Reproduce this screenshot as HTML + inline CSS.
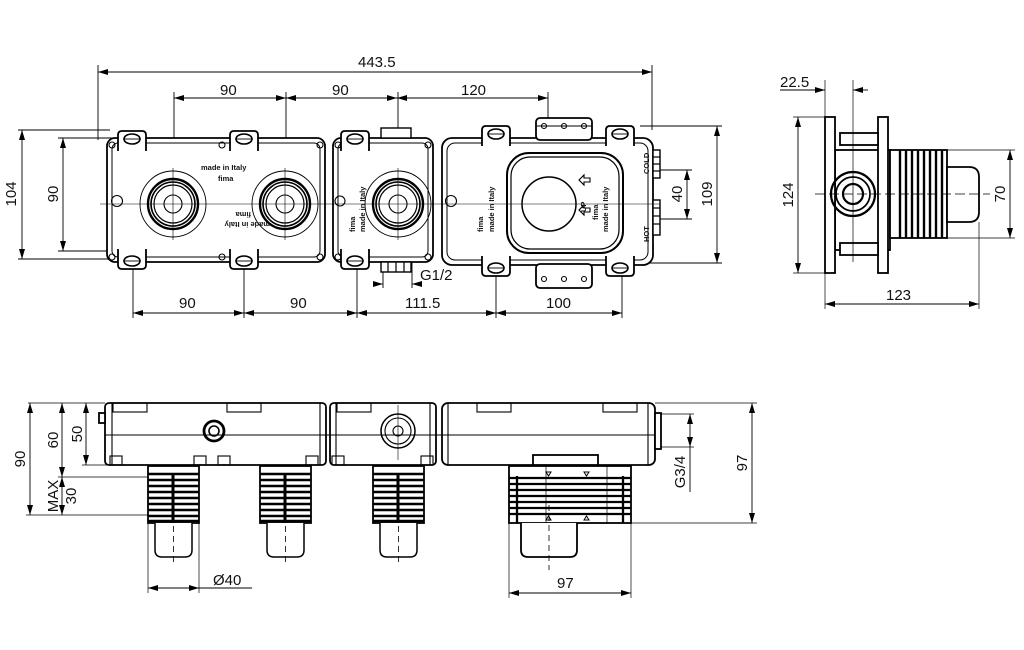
<!DOCTYPE html>
<html><head><meta charset="utf-8"><style>
html,body{margin:0;padding:0;background:#fff;width:1024px;height:650px;overflow:hidden}
svg{display:block}
text{font-family:"Liberation Sans",sans-serif;font-size:15px;fill:#111}
.s{font-size:7.5px;font-weight:bold}
</style></head><body>
<svg width="1024" height="650" viewBox="0 0 1024 650" xmlns="http://www.w3.org/2000/svg">
<defs>
<marker id="a" viewBox="0 0 10 6" refX="10" refY="3" markerWidth="10" markerHeight="6" orient="auto-start-reverse" markerUnits="userSpaceOnUse"><path d="M0,0L10,3L0,6z" fill="#000"/></marker>
<g id="ear"><path d="M-14,10 L-14,-6 Q-14,-10 -10,-10 L10,-10 Q14,-10 14,-6 L14,10" fill="#fff" stroke="#000" stroke-width="1.8"/><ellipse cx="0" cy="-2" rx="8" ry="5" fill="none" stroke="#000" stroke-width="1.6"/><line x1="-8" y1="-2" x2="8" y2="-2" stroke="#000" stroke-width="0.9"/></g>
<g id="earB"><path d="M-14,-10 L-14,6 Q-14,10 -10,10 L10,10 Q14,10 14,6 L14,-10" fill="#fff" stroke="#000" stroke-width="1.8"/><ellipse cx="0" cy="2" rx="8" ry="5" fill="none" stroke="#000" stroke-width="1.6"/><line x1="-8" y1="2" x2="8" y2="2" stroke="#000" stroke-width="0.9"/></g>
<g id="port"><circle r="33" fill="none" stroke="#000" stroke-width="0.9"/><circle r="25" fill="none" stroke="#000" stroke-width="2.4"/><circle r="22" fill="none" stroke="#000" stroke-width="1.6"/><circle r="19" fill="none" stroke="#000" stroke-width="1.2"/><circle r="9" fill="none" stroke="#000" stroke-width="1.1"/><line x1="0" y1="-36" x2="0" y2="36" stroke="#000" stroke-width="0.6"/></g>
<g id="thr"><rect x="0" y="0" width="51" height="57" fill="#fff" stroke="#000" stroke-width="1.8"/>
<g stroke="#000" stroke-width="2.5"><line x1="0" y1="8" x2="51" y2="8"/><line x1="0" y1="14" x2="51" y2="14"/><line x1="0" y1="20" x2="51" y2="20"/><line x1="0" y1="26" x2="51" y2="26"/><line x1="0" y1="32" x2="51" y2="32"/><line x1="0" y1="38" x2="51" y2="38"/><line x1="0" y1="44" x2="51" y2="44"/><line x1="0" y1="50" x2="51" y2="50"/><line x1="0" y1="55" x2="51" y2="55"/></g>
<line x1="25" y1="8" x2="25" y2="57" stroke="#000" stroke-width="3"/>
<path d="M7,57 L7,84 Q7,91 14,91 L37,91 Q44,91 44,84 L44,57" fill="#fff" stroke="#000" stroke-width="1.5"/>
<line x1="25.5" y1="60" x2="25.5" y2="100" stroke="#000" stroke-width="0.8" stroke-dasharray="6,4"/></g>
</defs>
<g fill="none" stroke="#000" stroke-width="0.9">
<line x1="98" y1="72" x2="652" y2="72" marker-start="url(#a)" marker-end="url(#a)"/>
<line x1="98" y1="65" x2="98" y2="140"/><line x1="652" y1="65" x2="652" y2="130"/>
<line x1="174" y1="98" x2="286" y2="98" marker-start="url(#a)" marker-end="url(#a)"/>
<line x1="286" y1="98" x2="397" y2="98" marker-start="url(#a)" marker-end="url(#a)"/>
<line x1="397" y1="98" x2="548" y2="98" marker-start="url(#a)" marker-end="url(#a)"/>
<line x1="174" y1="92" x2="174" y2="240"/><line x1="286" y1="92" x2="286" y2="240"/><line x1="398" y1="92" x2="398" y2="240"/><line x1="548" y1="92" x2="548" y2="240"/>
<line x1="22" y1="130" x2="22" y2="259" marker-start="url(#a)" marker-end="url(#a)"/>
<line x1="18" y1="130" x2="110" y2="130"/><line x1="18" y1="259" x2="120" y2="259"/>
<line x1="63" y1="138" x2="63" y2="251" marker-start="url(#a)" marker-end="url(#a)"/>
<line x1="58" y1="138" x2="118" y2="138"/><line x1="58" y1="251" x2="118" y2="251"/>
<line x1="717" y1="126" x2="717" y2="263" marker-start="url(#a)" marker-end="url(#a)"/>
<line x1="640" y1="126" x2="722" y2="126"/><line x1="640" y1="263" x2="722" y2="263"/>
<line x1="687" y1="170" x2="687" y2="219" marker-start="url(#a)" marker-end="url(#a)"/>
<line x1="660" y1="170" x2="692" y2="170"/><line x1="660" y1="219" x2="692" y2="219"/>
<line x1="133" y1="313" x2="244" y2="313" marker-start="url(#a)" marker-end="url(#a)"/>
<line x1="244" y1="313" x2="357" y2="313" marker-start="url(#a)" marker-end="url(#a)"/>
<line x1="357" y1="313" x2="496" y2="313" marker-start="url(#a)" marker-end="url(#a)"/>
<line x1="496" y1="313" x2="622" y2="313" marker-start="url(#a)" marker-end="url(#a)"/>
<line x1="133" y1="262" x2="133" y2="318"/><line x1="244" y1="262" x2="244" y2="318"/><line x1="357" y1="262" x2="357" y2="318"/><line x1="496" y1="262" x2="496" y2="318"/><line x1="622" y1="262" x2="622" y2="318"/>
<line x1="374" y1="284" x2="383" y2="284" marker-end="url(#a)"/><line x1="422" y1="284" x2="412" y2="284" marker-end="url(#a)"/><line x1="383" y1="252" x2="383" y2="288"/><line x1="412" y1="252" x2="412" y2="288"/>
</g>
<g font-size="15">
<text x="358" y="67">443.5</text><text x="220" y="95">90</text><text x="332" y="95">90</text><text x="461" y="95">120</text>
<text x="179" y="308">90</text><text x="290" y="308">90</text><text x="405" y="308">111.5</text><text x="546" y="308">100</text>
<text x="420" y="280">G1/2</text>
<text transform="translate(16,194) rotate(-90)" text-anchor="middle">104</text>
<text transform="translate(58,194) rotate(-90)" text-anchor="middle">90</text>
<text transform="translate(712,194) rotate(-90)" text-anchor="middle">109</text>
<text transform="translate(682,194) rotate(-90)" text-anchor="middle">40</text>
</g>
<g stroke="#000" stroke-width="1.8" fill="#fff">
<rect x="107" y="138" width="218" height="124" rx="8"/>
<rect x="112" y="143" width="208" height="114" rx="6" stroke-width="1"/>
<rect x="333" y="138" width="100" height="124" rx="8"/>
<rect x="338" y="143" width="90" height="114" rx="6" stroke-width="1"/>
<rect x="442" y="138" width="211" height="127" rx="10"/>
<rect x="447" y="143" width="201" height="117" rx="8" stroke-width="1"/>
<rect x="536" y="118" width="56" height="22" rx="4"/>
<rect x="536" y="264" width="56" height="24" rx="4"/>
<rect x="507" y="153" width="116" height="100" rx="22" stroke-width="2"/>
<rect x="511" y="157" width="108" height="92" rx="19" stroke-width="1.2"/>
<rect x="381" y="128" width="30" height="10" stroke-width="1.4"/>
<rect x="381" y="262" width="30" height="10" stroke-width="1.4"/>
<rect x="653" y="150" width="7" height="28" stroke-width="1.4"/>
<rect x="653" y="200" width="7" height="35" stroke-width="1.4"/>
</g>
<g stroke="#000" stroke-width="1.2" fill="none">
<line x1="388" y1="262" x2="388" y2="272"/><line x1="396" y1="262" x2="396" y2="272"/><line x1="404" y1="262" x2="404" y2="272"/>
<line x1="653" y1="157" x2="660" y2="157"/><line x1="653" y1="164" x2="660" y2="164"/><line x1="653" y1="171" x2="660" y2="171"/>
<line x1="653" y1="208" x2="660" y2="208"/><line x1="653" y1="216" x2="660" y2="216"/><line x1="653" y1="224" x2="660" y2="224"/>
</g>
<g stroke="#000" stroke-width="1.1" fill="none">
<line x1="537" y1="126" x2="592" y2="126"/>
<circle cx="544" cy="126" r="2.5"/><circle cx="564" cy="126" r="2.5"/><circle cx="584" cy="126" r="2.5"/>
<circle cx="544" cy="279" r="2.5"/><circle cx="564" cy="279" r="2.5"/><circle cx="584" cy="279" r="2.5"/>
<circle cx="117" cy="201" r="5.5"/><circle cx="451" cy="201" r="5.5"/><circle cx="340" cy="201" r="5"/>
<circle cx="112" cy="145" r="3"/><circle cx="112" cy="257" r="3"/><circle cx="320" cy="145" r="3"/><circle cx="320" cy="257" r="3"/>
<circle cx="222" cy="145" r="3"/><circle cx="222" cy="257" r="3"/><circle cx="245" cy="145" r="3"/><circle cx="245" cy="257" r="3"/>
<circle cx="338" cy="145" r="3"/><circle cx="338" cy="257" r="3"/><circle cx="428" cy="145" r="3"/><circle cx="428" cy="257" r="3"/>
<circle cx="549" cy="204" r="27" stroke-width="1.5"/>
<path d="M590,178 h-6 v-3 l-5,5 l5,5 v-3 h6z M590,208 h-6 v-3 l-5,5 l5,5 v-3 h6z"/>
<line x1="100" y1="204" x2="660" y2="204" stroke-width="0.6"/>
</g>
<use href="#port" x="173" y="204"/><use href="#port" x="285" y="204"/><use href="#port" x="398" y="204"/>
<use href="#ear" x="132" y="141"/><use href="#ear" x="244" y="141"/><use href="#ear" x="355" y="141"/>
<use href="#earB" x="132" y="259"/><use href="#earB" x="244" y="259"/><use href="#earB" x="355" y="259"/>
<use href="#ear" x="496" y="136"/><use href="#ear" x="620" y="136"/>
<use href="#earB" x="496" y="266"/><use href="#earB" x="620" y="266"/>
<g>
<text x="201" y="170" class="s">made in Italy</text><text x="218" y="181" class="s">fima</text>
<text transform="translate(270,222) rotate(180)" class="s">made in Italy</text><text transform="translate(251,212) rotate(180)" class="s">fima</text>
<text transform="translate(355,232) rotate(-90)" class="s">fima</text><text transform="translate(365,232) rotate(-90)" class="s">made in Italy</text>
<text transform="translate(483,232) rotate(-90)" class="s">fima</text><text transform="translate(494,232) rotate(-90)" class="s">made in Italy</text>
<text transform="translate(608,232) rotate(-90)" class="s">made in Italy</text><text transform="translate(598,220) rotate(-90)" class="s">fima</text>
<text transform="translate(586,212) rotate(-90)" class="s">UP</text>
<text transform="translate(649,174) rotate(-90)" class="s">COLD</text><text transform="translate(649,242) rotate(-90)" class="s">HOT</text>
</g>
<g stroke="#000" stroke-width="1.8" fill="#fff">
<rect x="835" y="150" width="55" height="100"/>
<rect x="825" y="117" width="10" height="156"/>
<rect x="878" y="117" width="10" height="156"/>
<rect x="840" y="133" width="38" height="12"/>
<rect x="840" y="243" width="38" height="12"/>
<rect x="890" y="150" width="57" height="88"/>
<path d="M947,167 h22 q10,0 10,10 v35 q0,10 -10,10 h-22z"/>
</g>
<g stroke="#000" stroke-width="2.4">
<line x1="900" y1="150" x2="900" y2="238"/><line x1="906" y1="150" x2="906" y2="238"/><line x1="912" y1="150" x2="912" y2="238"/><line x1="918" y1="150" x2="918" y2="238"/><line x1="924" y1="150" x2="924" y2="238"/><line x1="930" y1="150" x2="930" y2="238"/><line x1="936" y1="150" x2="936" y2="238"/><line x1="942" y1="150" x2="942" y2="238"/>
</g>
<g fill="none" stroke="#000" stroke-width="1">
<circle cx="853" cy="194" r="22" stroke-width="2.2"/><circle cx="853" cy="194" r="17" stroke-width="1.7"/><circle cx="853" cy="194" r="10" stroke-width="2.2"/>
<line x1="853" y1="80" x2="853" y2="262" stroke-width="0.7"/>
<line x1="815" y1="194" x2="990" y2="194" stroke-dasharray="10,4" stroke-width="0.7"/>
<line x1="825" y1="80" x2="825" y2="117" stroke-width="0.7"/>
<line x1="798" y1="117" x2="798" y2="273" marker-start="url(#a)" marker-end="url(#a)" stroke-width="0.9"/>
<line x1="793" y1="117" x2="825" y2="117" stroke-width="0.7"/><line x1="793" y1="273" x2="825" y2="273" stroke-width="0.7"/>
<line x1="1010" y1="150" x2="1010" y2="238" marker-start="url(#a)" marker-end="url(#a)" stroke-width="0.9"/>
<line x1="947" y1="150" x2="1015" y2="150" stroke-width="0.7"/><line x1="947" y1="238" x2="1015" y2="238" stroke-width="0.7"/>
<line x1="780" y1="90" x2="825" y2="90" stroke-width="0.9" marker-end="url(#a)"/><line x1="868" y1="90" x2="853" y2="90" stroke-width="0.9" marker-end="url(#a)"/>
<line x1="825" y1="304" x2="979" y2="304" marker-start="url(#a)" marker-end="url(#a)" stroke-width="0.9"/>
<line x1="825" y1="273" x2="825" y2="309" stroke-width="0.7"/><line x1="979" y1="222" x2="979" y2="309" stroke-width="0.7"/>
</g>
<text x="780" y="87">22.5</text><text x="886" y="300">123</text>
<text transform="translate(793,195) rotate(-90)" text-anchor="middle">124</text>
<text transform="translate(1005,194) rotate(-90)" text-anchor="middle">70</text>
<g stroke="#000" stroke-width="1.8" fill="#fff">
<rect x="105" y="403" width="221" height="62" rx="4"/>
<rect x="330" y="403" width="106" height="62" rx="4"/>
<rect x="442" y="403" width="213" height="62" rx="6"/>
<rect x="655" y="413" width="6" height="36"/>
<rect x="99" y="413" width="6" height="10"/>
<rect x="533" y="455" width="65" height="10"/>
</g>
<g stroke="#000" stroke-width="1.1" fill="none">
<line x1="105" y1="435" x2="655" y2="435"/>
<line x1="112" y1="403" x2="112" y2="465"/><line x1="320" y1="403" x2="320" y2="465"/><line x1="336" y1="403" x2="336" y2="465"/><line x1="430" y1="403" x2="430" y2="465"/><line x1="448" y1="403" x2="448" y2="465"/><line x1="648" y1="403" x2="648" y2="465"/>
<rect x="113" y="403" width="34" height="9"/><rect x="227" y="403" width="34" height="9"/><rect x="337" y="403" width="34" height="9"/><rect x="477" y="403" width="34" height="9"/><rect x="603" y="403" width="34" height="9"/>
<rect x="110" y="456" width="12" height="9"/><rect x="194" y="456" width="12" height="9"/><rect x="218" y="456" width="12" height="9"/><rect x="306" y="456" width="12" height="9"/><rect x="332" y="456" width="12" height="9"/><rect x="421" y="456" width="12" height="9"/>
<circle cx="214" cy="431" r="10" stroke-width="2.8"/><circle cx="214" cy="431" r="5" stroke-width="1.6"/>
<circle cx="398" cy="431" r="17" stroke-width="1.5"/><circle cx="398" cy="431" r="13"/><circle cx="398" cy="431" r="5"/>
<line x1="398" y1="405" x2="398" y2="460" stroke-width="0.6"/>
</g>
<use href="#thr" x="148" y="466"/><use href="#thr" x="260" y="466"/><use href="#thr" x="373" y="466"/>
<g stroke="#000" fill="#fff" stroke-width="1.8">
<rect x="509" y="466" width="122" height="57"/>
<path d="M521,523 L521,550 Q521,557 528,557 L570,557 Q577,557 577,550 L577,523"/>
</g>
<g stroke="#000" stroke-width="2.3">
<line x1="509" y1="478" x2="631" y2="478"/><line x1="509" y1="484" x2="631" y2="484"/><line x1="509" y1="490" x2="631" y2="490"/><line x1="509" y1="496" x2="631" y2="496"/><line x1="509" y1="502" x2="631" y2="502"/><line x1="509" y1="508" x2="631" y2="508"/><line x1="509" y1="514" x2="631" y2="514"/>
<line x1="517" y1="476" x2="517" y2="523"/><line x1="623" y1="476" x2="623" y2="523"/>
</g>
<g stroke="#000" stroke-width="1" fill="none">
<line x1="546" y1="466" x2="546" y2="523" stroke-width="0.7"/><line x1="607" y1="466" x2="607" y2="523" stroke-width="0.7"/>
<path d="M546,472 l5,0 l-2.5,4z M584,472 l5,0 l-2.5,4z M546,520 l5,0 l-2.5,-4z M584,520 l5,0 l-2.5,-4z"/>
<line x1="549" y1="505" x2="549" y2="570" stroke-dasharray="6,4" stroke-width="0.8"/>
<line x1="28" y1="403" x2="105" y2="403" stroke-width="0.7"/>
<line x1="30" y1="403" x2="30" y2="515" marker-start="url(#a)" marker-end="url(#a)" stroke-width="0.9"/>
<line x1="62" y1="403" x2="62" y2="477" marker-start="url(#a)" marker-end="url(#a)" stroke-width="0.9"/>
<line x1="62" y1="477" x2="62" y2="515" marker-start="url(#a)" marker-end="url(#a)" stroke-width="0.9"/>
<line x1="86" y1="403" x2="86" y2="465" marker-start="url(#a)" marker-end="url(#a)" stroke-width="0.9"/>
<line x1="82" y1="465" x2="110" y2="465" stroke-width="0.7"/>
<line x1="58" y1="477" x2="148" y2="477" stroke-width="0.7"/>
<line x1="26" y1="515" x2="148" y2="515" stroke-width="0.7"/>
<line x1="148" y1="523" x2="148" y2="593" stroke-width="0.7"/><line x1="199" y1="523" x2="199" y2="593" stroke-width="0.7"/>
<line x1="148" y1="588" x2="199" y2="588" marker-start="url(#a)" marker-end="url(#a)" stroke-width="0.9"/>
<line x1="199" y1="588" x2="252" y2="588" stroke-width="0.9"/>
<line x1="509" y1="523" x2="509" y2="598" stroke-width="0.7"/><line x1="631" y1="523" x2="631" y2="598" stroke-width="0.7"/>
<line x1="509" y1="593" x2="631" y2="593" marker-start="url(#a)" marker-end="url(#a)" stroke-width="0.9"/>
<line x1="631" y1="523" x2="757" y2="523" stroke-width="0.7"/><line x1="655" y1="403" x2="757" y2="403" stroke-width="0.7"/>
<line x1="752" y1="403" x2="752" y2="523" marker-start="url(#a)" marker-end="url(#a)" stroke-width="0.9"/>
<line x1="661" y1="414" x2="694" y2="414" stroke-width="0.7"/><line x1="661" y1="447" x2="694" y2="447" stroke-width="0.7"/>
<line x1="690" y1="414" x2="690" y2="447" marker-start="url(#a)" marker-end="url(#a)" stroke-width="0.9"/>
<line x1="690" y1="447" x2="690" y2="492" stroke-width="0.9"/>
</g>
<text x="213" y="585">Ø40</text><text x="557" y="588">97</text>
<text transform="translate(25,459) rotate(-90)" text-anchor="middle">90</text>
<text transform="translate(58,440) rotate(-90)" text-anchor="middle">60</text>
<text transform="translate(82,434) rotate(-90)" text-anchor="middle">50</text>
<text transform="translate(58,496) rotate(-90)" text-anchor="middle">MAX</text>
<text transform="translate(76,496) rotate(-90)" text-anchor="middle">30</text>
<text transform="translate(685,472) rotate(-90)" text-anchor="middle">G3/4</text>
<text transform="translate(747,463) rotate(-90)" text-anchor="middle">97</text>
</svg>
</body></html>
